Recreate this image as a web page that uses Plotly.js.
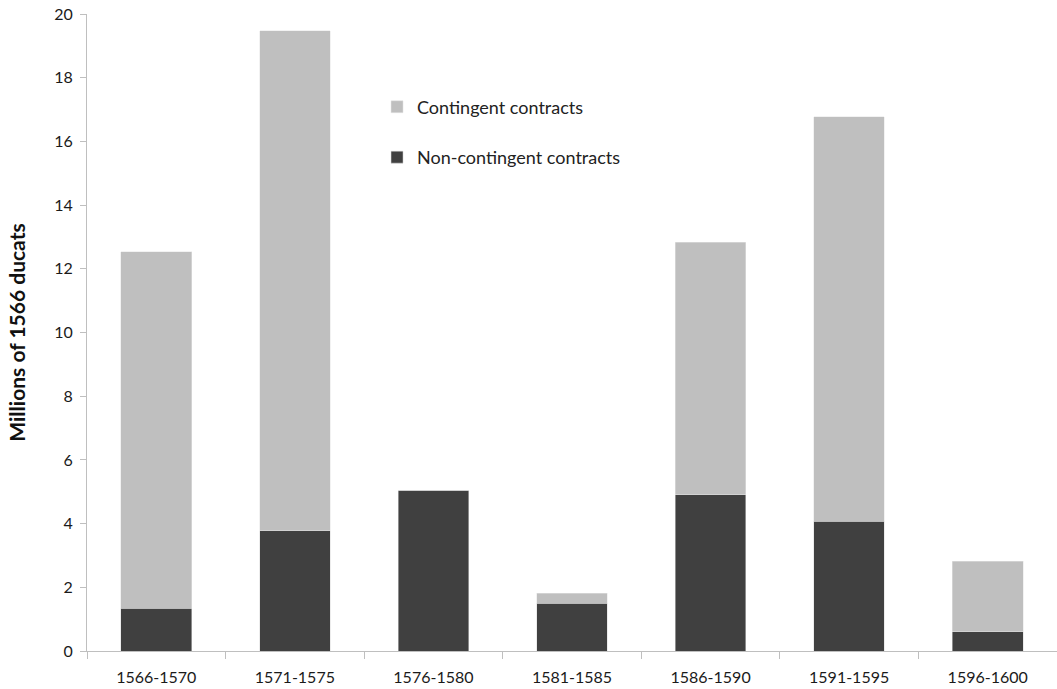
<!DOCTYPE html>
<html>
<head>
<meta charset="utf-8">
<script src="https://cdn.plot.ly/plotly-3.0.1.min.js"></script>
<style>html,body{margin:0;padding:0;background:#fff;}#chart{width:1057px;height:689px;}</style>
</head>
<body>
<div id="chart"></div>
<script>
var periods = ["1566-1570","1571-1575","1576-1580","1581-1585","1586-1590","1591-1595","1596-1600"];
var nonContingent = [1.35, 3.77, 5.05, 1.50, 4.91, 4.08, 0.60];
var totals = [12.53, 19.47, 5.05, 1.81, 12.84, 16.77, 2.82];
var contingent = totals.map(function(t, i){ return +(t - nonContingent[i]).toFixed(2); });
var yTicks = [0,2,4,6,8,10,12,14,16,18,20];

var font = "Lato, 'Open Sans', sans-serif";
var traces = [
  {type:'bar', name:'Non-contingent contracts', x:periods, y:nonContingent, legendgroup:'a', legendrank:2,
   marker:{color:'#404040', line:{color:'#d9d9d9', width:0.5}}},
  {type:'bar', name:'Contingent contracts', x:periods, y:contingent, legendgroup:'b', legendrank:1,
   marker:{color:'#bfbfbf', line:{color:'#e6e6e6', width:0.5}}}
];
var layout = {
  width:1057, height:689,
  margin:{l:87, r:0, t:14, b:38},
  barmode:'stack', bargap:0.49,
  paper_bgcolor:'#fff', plot_bgcolor:'#fff',
  font:{family:font, size:16, color:'#222'},
  showlegend:true,
  legend:{x:0.299, y:0.883, xanchor:'left', yanchor:'top', traceorder:'grouped', tracegroupgap:24,
          font:{family:font, size:18, color:'#222'}, itemwidth:30, bgcolor:'rgba(0,0,0,0)'},
  xaxis:{showline:true, linecolor:'#bfbfbf', linewidth:1, ticks:'outside', tickson:'boundaries',
         ticklen:7, tickcolor:'#bfbfbf', showgrid:false, ticklabelstandoff:12,
         tickfont:{family:font, size:16, color:'#1a1a1a'}},
  yaxis:{range:[0,20], tickvals:yTicks, ticktext:yTicks.map(String), showline:true, linecolor:'#bfbfbf',
         ticks:'outside', ticklen:6, tickcolor:'#bfbfbf', showgrid:false, zeroline:false, ticklabelstandoff:4,
         tickfont:{family:font, size:16, color:'#1a1a1a'},
         title:{text:'<b>Millions of 1566 ducats</b>', font:{family:font, size:21, color:'#111'}, standoff:22}}
};
Plotly.newPlot('chart', traces, layout, {displayModeBar:false, staticPlot:true});
</script>
</body>
</html>
